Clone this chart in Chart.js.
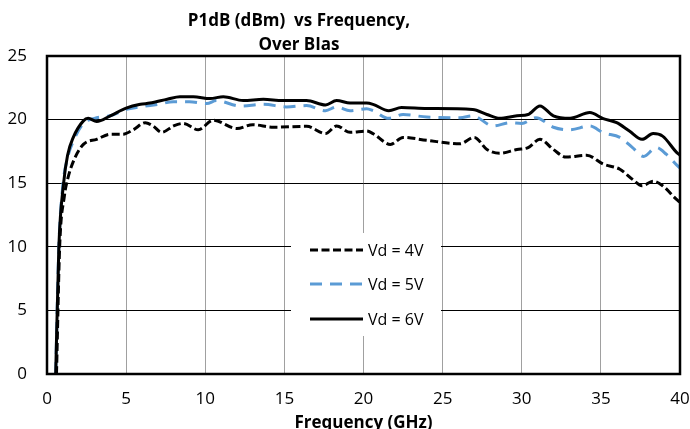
<!DOCTYPE html>
<html>
<head>
<meta charset="utf-8">
<script src="https://cdn.jsdelivr.net/npm/chart.js@4/dist/chart.umd.min.js"></script>
<style>
	html, body { margin: 0; padding: 0; background: #fff; }
	#p1db-chart { display: block; }
</style>
</head>
<body>
<canvas id="p1db-chart" width="690" height="429"></canvas>
<script>
// values
const freq4V = [0.6, 0.8, 1.1, 1.3, 1.66, 2.3, 3.14, 4.0, 4.8, 5.45, 6.2, 6.7, 7.25, 8.0, 8.6, 9.56, 10.5, 12.0, 13.0, 14.3, 16.4, 17.6, 18.3, 19.15, 20.2, 20.6, 21.7, 22.5, 24.0, 26.1, 27.0, 27.8, 28.6, 29.7, 30.4, 31.15, 32.0, 32.8, 34.1, 35.15, 36.2, 37.0, 37.6, 38.3, 38.9, 39.8, 40];
const p1db4V = [0, 10, 14, 15.3, 16.7, 18.05, 18.45, 18.85, 18.85, 19.2, 19.75, 19.5, 19.0, 19.5, 19.7, 19.2, 19.95, 19.3, 19.6, 19.4, 19.47, 18.9, 19.5, 19.0, 19.1, 18.9, 18.05, 18.6, 18.37, 18.1, 18.6, 17.65, 17.35, 17.65, 17.8, 18.45, 17.65, 17.05, 17.2, 16.5, 16.1, 15.3, 14.8, 15.15, 14.8, 13.7, 13.5];

const freq5V = [0.55, 0.75, 1.0, 1.3, 1.66, 2.3, 3.0, 4.0, 5.0, 5.9, 7.0, 8.0, 9.0, 10.1, 10.7, 12.2, 13.67, 15.15, 16.4, 17.6, 18.3, 19.15, 20.2, 20.6, 21.6, 22.5, 24.0, 26.1, 26.9, 28.2, 29.25, 30.0, 30.9, 32.0, 33.05, 34.3, 35.15, 36.2, 37.0, 37.7, 38.5, 39.15, 39.9, 40];
const p1db5V = [0, 10, 14.8, 17, 18.3, 19.7, 20.1, 20.3, 20.8, 21.0, 21.2, 21.4, 21.4, 21.26, 21.5, 21.07, 21.2, 21.0, 21.1, 20.7, 21.0, 20.7, 20.85, 20.7, 20.1, 20.4, 20.2, 20.15, 20.3, 19.5, 19.75, 19.7, 20.15, 19.4, 19.2, 19.5, 18.97, 18.6, 17.8, 17.1, 17.8, 17.26, 16.3, 16.2];

const freq6V = [0.55, 0.75, 1.05, 1.3, 1.66, 2.3, 2.6, 3.14, 4.0, 5.0, 5.9, 6.5, 7.6, 8.4, 9.25, 10.3, 11.14, 12.4, 13.67, 14.9, 16.4, 17.6, 18.3, 19.15, 20.2, 20.6, 21.6, 22.4, 24.0, 26.9, 27.8, 28.6, 29.7, 30.4, 31.15, 32.0, 33.05, 34.3, 35.15, 36.0, 36.8, 37.6, 38.3, 38.9, 39.8, 40];
const p1db6V = [0, 10, 15, 17.2, 18.6, 19.9, 20.1, 19.85, 20.3, 20.9, 21.2, 21.3, 21.6, 21.8, 21.8, 21.65, 21.8, 21.5, 21.6, 21.5, 21.5, 21.15, 21.5, 21.3, 21.3, 21.2, 20.7, 20.95, 20.87, 20.8, 20.4, 20.1, 20.3, 20.4, 21.07, 20.3, 20.1, 20.55, 20.08, 19.76, 19.1, 18.45, 18.9, 18.7, 17.4, 17.2];

const seriesLabels = ['Vd = 4V', 'Vd = 5V', 'Vd = 6V'];
const titleLines = ['P1dB (dBm)  vs Frequency,', 'Over BIas'];
const xTitle = 'Frequency (GHz)';

class P1dB_Chart {

	init = () => {
		const ctx = document.getElementById('p1db-chart');
		const toPoints = (xs, ys) => xs.map((x, i) => ({ x: x, y: ys[i] }));

		let styles = [
			{ color: '#000000', dash: [8, 3.5] },
			{ color: '#5b9bd5', dash: [12, 8] },
			{ color: '#000000', dash: [] }
		];
		let points = [toPoints(freq4V, p1db4V), toPoints(freq5V, p1db5V), toPoints(freq6V, p1db6V)];

		let data = {
			datasets: seriesLabels.map((label, i) => ({
				label: label,
				data: points[i],
				borderColor: styles[i].color,
				borderDash: styles[i].dash,
				borderWidth: 3,
				pointRadius: 0,
				fill: false,
				cubicInterpolationMode: 'monotone',
				order: i === 2 ? 0 : (i === 0 ? 1 : 2)
			}))
		};
		this.styles = styles;
		this.drawChart(ctx, 'line', this.options(), data);
	}

	options = () => {
		const tickFont = { family: 'Open Sans', size: 17 };
		return {
			responsive: false,
			animation: false,
			devicePixelRatio: 1,
			layout: { padding: { top: 56, right: 10, left: 0, bottom: 0 } },
			plugins: {
				legend: { display: false },
				tooltip: { enabled: false },
				title: { display: false }
			},
			scales: {
				x: {
					type: 'linear',
					min: 0,
					max: 40,
					ticks: { stepSize: 5, color: '#000', font: tickFont, padding: 15, maxRotation: 0 },
					grid: { color: '#a0a0a0', lineWidth: 1, drawTicks: false },
					border: { display: false },
					title: {
						display: true,
						text: xTitle,
						color: '#000',
						font: { family: 'Open Sans', size: 17, weight: 'bold', lineHeight: 1 },
						padding: { top: 0, bottom: -3 }
					},
					afterFit: (scale) => {
						scale.height = 55;
						scale.paddingLeft = 0;
						scale.paddingRight = 0;
					}
				},
				y: {
					min: 0,
					max: 25,
					ticks: { stepSize: 5, color: '#000', font: tickFont, padding: 20 },
					grid: { color: '#000', lineWidth: 1, drawTicks: false },
					border: { display: false },
					afterFit: (scale) => { scale.width = 47; }
				}
			}
		};
	}

	decorations = () => {
		return {
			id: 'p1dbDecorations',
			afterDatasetsDraw: (chart) => {
				const c = chart.ctx;
				const area = chart.chartArea;
				c.save();
				// plot frame
				c.strokeStyle = '#000';
				c.lineWidth = 2.5;
				c.setLineDash([]);
				c.strokeRect(area.left, area.top, area.right - area.left, area.bottom - area.top);

				// legend box sitting inside the plot
				c.fillStyle = '#fff';
				c.fillRect(291, 233, 150, 103);
				c.font = '16px "Open Sans"';
				c.textAlign = 'left';
				c.textBaseline = 'middle';
				let rows = [250, 284, 319];
				seriesLabels.forEach((label, i) => {
					c.beginPath();
					c.strokeStyle = this.styles[i].color;
					c.lineWidth = 3;
					c.setLineDash(this.styles[i].dash);
					c.moveTo(310, rows[i]);
					c.lineTo(363, rows[i]);
					c.stroke();
					c.fillStyle = '#000';
					c.fillText(label, 368, rows[i] + 1);
				});

				// chart title (Excel put it left of centre)
				c.font = 'bold 17px "Open Sans"';
				c.textAlign = 'center';
				c.fillText(titleLines[0], 299, 21);
				c.fillText(titleLines[1], 299, 45);
				c.restore();
			}
		};
	}

	drawChart = (ctx, type, options, data) => {
		new Chart(ctx, {
			type: type,
			options: options,
			data: data,
			plugins: [this.decorations()]
		});
	}
}

document.addEventListener('DOMContentLoaded', () => {
	new P1dB_Chart().init();
});
</script>
</body>
</html>
